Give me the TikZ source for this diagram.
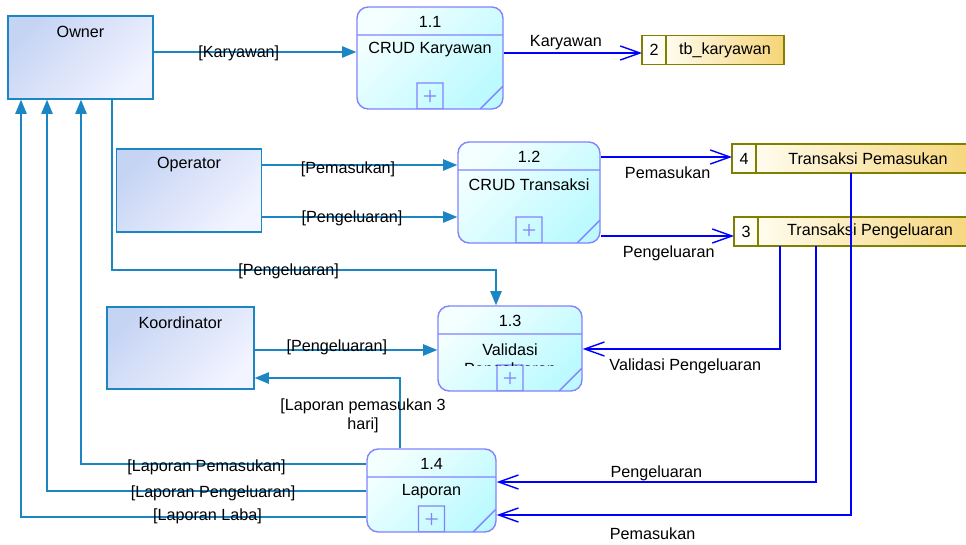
\documentclass[tikz,border=0pt]{standalone}
\usepackage{fontspec}
\setmainfont{Liberation Sans}
\usetikzlibrary{arrows.meta,positioning}

\newdimen\px
\px=0.025cm

\definecolor{entline}{RGB}{28,134,196}
\definecolor{enttop}{RGB}{198,212,244}
\definecolor{entbot}{RGB}{242,244,255}
\definecolor{procline}{RGB}{130,130,255}
\definecolor{proctop}{RGB}{244,255,255}
\definecolor{procbot}{RGB}{188,250,255}
\definecolor{storeline}{RGB}{128,128,0}
\definecolor{storegold}{RGB}{246,212,118}
\definecolor{storecream}{RGB}{255,252,238}
\definecolor{dataflow}{RGB}{0,0,255}

\tikzset{
  entity/.style={draw=entline, line width=1pt, top color=enttop, bottom color=entbot, shading angle=45,
    minimum width=145\px, minimum height=83\px, inner sep=0pt},
  ename/.style={anchor=center, yshift=-16.5\px},
  process/.style={draw=procline, line width=1pt, rounded corners=8pt, top color=proctop, bottom color=procbot,
    shading angle=45, inner sep=0pt,
    path picture={
      \draw[procline, line width=1pt, sharp corners]
        ([yshift=-28\px]path picture bounding box.north west) -- ([yshift=-28\px]path picture bounding box.north east)
        ([xshift=-13\px]path picture bounding box.south) rectangle ([xshift=13\px,yshift=26\px]path picture bounding box.south)
        ([xshift=-6\px,yshift=13\px]path picture bounding box.south) -- ([xshift=6\px,yshift=13\px]path picture bounding box.south)
        ([yshift=7\px]path picture bounding box.south) -- ([yshift=19\px]path picture bounding box.south)
        ([xshift=-23\px]path picture bounding box.south east) -- ([yshift=23\px]path picture bounding box.south east);
    }},
  pnum/.style={anchor=center, yshift=-16\px},
  pname/.style={anchor=center, yshift=-43.5\px},
  storenum/.style={draw=storeline, line width=1pt, left color=white, right color=storecream,
    minimum width=24\px, minimum height=29\px, inner sep=0pt, outer sep=0pt},
  store/.style={draw=storeline, line width=1pt, left color=storecream, right color=storegold,
    minimum height=29\px, inner sep=0pt, outer sep=0pt},
  eflow/.style={draw=entline, line width=1pt, -{Triangle[length=10pt,width=8pt]}},
  dflow/.style={draw=dataflow, line width=1pt, -{Straight Barb[length=14pt,width=10pt]}},
  flbl/.style={anchor=center, inner sep=0pt}
}

\begin{document}
\begin{tikzpicture}[x=0.025cm, y=-0.025cm, font=\fontsize{11.5}{13.5}\selectfont]
\useasboundingbox (0,0) rectangle (966,545);
\clip (0,0) rectangle (966,545);

% external entities
\node[entity, label={[ename]north:Owner}] (own) at (80.5,57.5) {};
\node[entity, label={[ename]north:Operator}] (opr) at (189,190.5) {};
\node[entity, minimum width=147\px, minimum height=82\px, label={[ename]north:Koordinator}] (kor) at (180.5,348) {};

% processes
\node[process, minimum width=146\px, minimum height=102\px, label={[pnum]north:1.1}, label={[pname]north:CRUD Karyawan}] (p11) at (430,58) {};
\node[process, minimum width=142\px, minimum height=101\px, label={[pnum]north:1.2}, label={[pname]north:CRUD Transaksi}] (p12) at (529,192.5) {};
\node[process, minimum width=144\px, minimum height=85\px, label={[pnum]north:1.3}] (p13) at (510,348.5) {};
\node[process, minimum width=129\px, minimum height=83\px, label={[pnum]north:1.4}, label={[pname]north:Laporan}] (p14) at (431.5,490.5) {};

\begin{scope}
\clip (p13.west |- 0,334) rectangle (p13.east |- 0,365);
\node[align=center] (p13t) at (510,361) {Validasi\\Pengeluaran};
\end{scope}

% data stores
\node[storenum] (n2) at (654,50) {2};
\node[store, minimum width=118\px, right=0pt of n2] (s2) {tb\_karyawan};
\node[storenum] (n4) at (744,158.5) {4};
\node[store, minimum width=224\px, right=0pt of n4] (s4) {Transaksi Pemasukan};
\node[storenum] (n3) at (746,231.5) {3};
\node[store, minimum width=224\px, right=0pt of n3] (s3) {Transaksi Pengeluaran};

% flows
\draw[eflow] (own.east |- 0,52) -- node[flbl, pos=.42, yshift=-1\px] {[Karyawan]} (p11.west |- 0,52);
\draw[dflow] (p11.east |- 0,53) -- node[flbl, pos=.45, yshift=10.5\px] {Karyawan} (n2.west |- 0,53);
\draw[eflow] (opr.east |- 0,165) -- node[flbl, pos=.44, yshift=-4.5\px] {[Pemasukan]} (p12.west |- 0,165);
\draw[eflow] (opr.east |- 0,217) -- node[flbl, pos=.46, yshift=-1\px] {[Pengeluaran]} (p12.west |- 0,217);
\draw[dflow] (p12.east |- 0,157) -- node[flbl, pos=.51, yshift=-15.5\px] {Pemasukan} (n4.west |- 0,157);
\draw[dflow] (p12.east |- 0,236) -- node[flbl, pos=.51, yshift=-17.5\px] {Pengeluaran} (n3.west |- 0,236);
\draw[eflow] (own.south -| 112,0) -- (112,270) -| node[flbl, pos=.23, yshift=-1\px] {[Pengeluaran]} (p13.north -| 496,0);
\draw[eflow] (kor.east |- 0,350) -- node[flbl, pos=.45, yshift=2.5\px] {[Pengeluaran]} (p13.west |- 0,350);
\draw[dflow] (s3.south -| 780,0) |- node[flbl, pos=.74, yshift=-17.5\px] {Validasi Pengeluaran} (p13.east |- 0,349);
\draw[eflow] (p14.north -| 400,0) |- node[flbl, pos=.24, xshift=-37\px, yshift=-1.5\px, align=center] {[Laporan pemasukan 3\\hari]} (kor.east |- 0,378);
\draw[eflow] (p14.west |- 0,464) -| node[flbl, pos=.28, yshift=-3\px] {[Laporan Pemasukan]} (own.south -| 81,0);
\draw[eflow] (p14.west |- 0,491) -| node[flbl, pos=.24, yshift=-2.5\px] {[Laporan Pengeluaran]} (own.south -| 47,0);
\draw[eflow] (p14.west |- 0,517) -| node[flbl, pos=.23, yshift=0.5\px] {[Laporan Laba]} (own.south -| 21,0);
\draw[dflow] (s3.south -| 816,0) |- node[flbl, pos=.75, yshift=8.5\px] {Pengeluaran} (p14.east |- 0,482);
\draw[dflow] (s4.south -| 851,0) |- node[flbl, pos=.78, yshift=-18.5\px] {Pemasukan} (p14.east |- 0,515);

\end{tikzpicture}
\end{document}
